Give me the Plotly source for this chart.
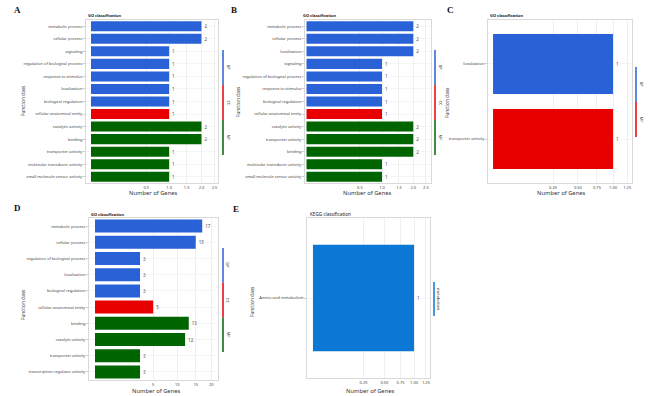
import numpy as np
import plotly.graph_objects as go

W, H = 662, 396

# ---------------- data ----------------
a_cats = ["metabolic process", "cellular process", "signaling",
          "regulation of biological process", "response to stimulus",
          "localization", "biological regulation", "cellular anatomical entity",
          "catalytic activity", "binding", "transporter activity",
          "molecular transducer activity", "small molecule sensor activity"]
a_vals = [2, 2, 1, 1, 1, 1, 1, 1, 2, 2, 1, 1, 1]
a_groups = ["BP"] * 7 + ["CC"] + ["MF"] * 5

b_cats = ["metabolic process", "cellular process", "localization", "signaling",
          "regulation of biological process", "response to stimulus",
          "biological regulation", "cellular anatomical entity",
          "catalytic activity", "transporter activity", "binding",
          "molecular transducer activity", "small molecule sensor activity"]
b_vals = [2, 2, 2, 1, 1, 1, 1, 1, 2, 2, 2, 1, 1]
b_groups = ["BP"] * 7 + ["CC"] + ["MF"] * 5

c_cats = ["localization", "transporter activity"]
c_vals = [1, 1]
c_groups = ["BP", "MF"]

d_cats = ["metabolic process", "cellular process",
          "regulation of biological process", "localization",
          "biological regulation", "cellular anatomical entity", "binding",
          "catalytic activity", "transporter activity",
          "transcription regulator activity"]
d_vals = [17, 15, 3, 3, 3, 5, 13, 12, 3, 3]
d_groups = ["BP"] * 5 + ["CC"] + ["MF"] * 4

e_cats = ["Amino acid metabolism"]
e_vals = [1]
e_groups = ["metabolism"]

ticks_ab = [0.5, 1.0, 1.5, 2.0, 2.5]
ticklabels_ab = ["0.5", "1.0", "1.5", "2.0", "2.5"]
ticks_ce = [0.25, 0.5, 0.75, 1.0, 1.25]
ticklabels_ce = ["0.25", "0.50", "0.75", "1.00", "1.25"]
ticks_d = [5, 10, 15, 20]
ticklabels_d = ["5", "10", "15", "20"]

# ---------------- styling ----------------
GO_PAL = ["#2962d6", "#e80000", "#006400"]
KEGG_PAL = ["#0a78d4"]
FONT = "Noto Sans"
GRID = "#e6e6e6"
FRAME = "#cfcfcf"

panels = [
    dict(letter="A", cats=a_cats, vals=a_vals, groups=a_groups, pal=GO_PAL,
         ticks=ticks_ab, tlabels=ticklabels_ab, frame=(86, 218, 20, 183),
         xr=[-0.064, 1.626], yr=[12.5, -0.5], title="GO classification", tbold=True,
         title_xy=(86, 15.5), letter_xy=(17, 10), ytitle_xy=(23, 101),
         xtitle_xy=(153, 193), leg_x=223, leg_y=(50, 155)),
    dict(letter="B", cats=b_cats, vals=b_vals, groups=b_groups, pal=GO_PAL,
         ticks=ticks_ab, tlabels=ticklabels_ab, frame=(305, 431, 20, 183),
         xr=[-0.02, 1.649], yr=[12.5, -0.5], title="GO classification", tbold=True,
         title_xy=(301, 15.5), letter_xy=(234, 10), ytitle_xy=(238, 102),
         xtitle_xy=(367, 193), leg_x=435, leg_y=(50, 155)),
    dict(letter="C", cats=c_cats, vals=c_vals, groups=c_groups, pal=GO_PAL,
         ticks=ticks_ce, tlabels=ticklabels_ce, frame=(488, 632, 20, 183),
         xr=[-0.042, 1.158], yr=[1.585, -0.585], title="GO classification", tbold=True,
         title_xy=(488, 15.5), letter_xy=(450, 10), ytitle_xy=(447, 103),
         xtitle_xy=(561, 193), leg_x=636, leg_y=(67, 137)),
    dict(letter="D", cats=d_cats, vals=d_vals, groups=d_groups, pal=GO_PAL,
         ticks=ticks_d, tlabels=ticklabels_d, frame=(89, 218, 218, 380),
         xr=[-0.231, 4.73], yr=[9.5, -0.5], title="GO classification", tbold=True,
         title_xy=(89, 214), letter_xy=(17, 208), ytitle_xy=(23, 305),
         xtitle_xy=(156, 391), leg_x=223, leg_y=(248, 352)),
    dict(letter="E", cats=e_cats, vals=e_vals, groups=e_groups, pal=KEGG_PAL,
         ticks=ticks_ce, tlabels=ticklabels_ce, frame=(307, 430, 218, 378),
         xr=[-0.059, 1.158], yr=[0.6, -0.6], title="KEGG classification", tbold=False,
         title_xy=(308, 214), letter_xy=(236, 209), ytitle_xy=(252, 302),
         xtitle_xy=(370, 390.5), leg_x=434, leg_y=(282, 316)),
]


def px(x):
    return x / W


def py(y):
    return 1 - y / H


fig = go.Figure()
layout = dict(width=W, height=H, margin=dict(l=0, r=0, t=0, b=0),
              paper_bgcolor="white", plot_bgcolor="white", showlegend=False,
              bargap=0.2, font=dict(family=FONT, color="#333"))
annotations = []
shapes = []

for i, p in enumerate(panels):
    n = i + 1
    xa = "xaxis" if n == 1 else f"xaxis{n}"
    ya = "yaxis" if n == 1 else f"yaxis{n}"
    xref = "x" if n == 1 else f"x{n}"
    yref = "y" if n == 1 else f"y{n}"

    uniq = list(dict.fromkeys(p["groups"]))
    colors = [p["pal"][uniq.index(g) % len(p["pal"])] for g in p["groups"]]

    fig.add_trace(go.Bar(
        x=np.sqrt(np.array(p["vals"], dtype=float)), y=p["cats"], orientation="h",
        marker=dict(color=colors, line=dict(width=0)),
        text=[str(v) for v in p["vals"]], textposition="outside",
        textfont=dict(size=4.5, color="#555", family=FONT),
        cliponaxis=False, xaxis=xref, yaxis=yref))

    x0, x1, y0, y1 = p["frame"]
    layout[xa] = dict(domain=[px(x0), px(x1)], anchor=yref, range=p["xr"],
                      tickvals=list(np.sqrt(p["ticks"])), ticktext=p["tlabels"],
                      tickfont=dict(size=4, color="#444"), ticks="",
                      showgrid=True, gridcolor=GRID, gridwidth=0.6,
                      zeroline=False, showline=True, linecolor=FRAME,
                      linewidth=0.8, mirror=True)
    layout[ya] = dict(domain=[py(y1), py(y0)], anchor=xref, type="category",
                      categoryorder="array", categoryarray=p["cats"],
                      range=p["yr"], tickfont=dict(size=4, color="#444"),
                      ticks="outside", ticklen=2, tickcolor="#999", tickwidth=0.5,
                      showgrid=True, gridcolor="#efefef", gridwidth=0.6,
                      showline=True, linecolor=FRAME, linewidth=0.8, mirror=True)

    # panel letter
    annotations.append(dict(text=f"<b>{p['letter']}</b>", x=px(p["letter_xy"][0]),
                            y=py(p["letter_xy"][1]), xref="paper", yref="paper",
                            showarrow=False, xanchor="center", yanchor="middle",
                            font=dict(family="Liberation Serif", size=9, color="#111")))
    # chart title
    ttl = f"<b>{p['title']}</b>" if p["tbold"] else p["title"]
    annotations.append(dict(text=ttl, x=px(p["title_xy"][0]), y=py(p["title_xy"][1]),
                            xref="paper", yref="paper", showarrow=False,
                            xanchor="left", yanchor="middle",
                            font=dict(size=4 if p["tbold"] else 4.6, color="#222")))
    # y title
    annotations.append(dict(text="Function class", x=px(p["ytitle_xy"][0]),
                            y=py(p["ytitle_xy"][1]), xref="paper", yref="paper",
                            showarrow=False, textangle=-90, xanchor="center",
                            yanchor="middle", font=dict(size=4.6, color="#333")))
    # x title
    annotations.append(dict(text="Number of Genes", x=px(p["xtitle_xy"][0]),
                            y=py(p["xtitle_xy"][1]), xref="paper", yref="paper",
                            showarrow=False, xanchor="center", yanchor="middle",
                            font=dict(size=5.8, color="#333")))
    # group legend bar
    ly0, ly1 = p["leg_y"]
    seg = (ly1 - ly0) / len(uniq)
    for k, g in enumerate(uniq):
        c = p["pal"][k % len(p["pal"])]
        s0 = ly0 + k * seg
        s1 = s0 + seg
        shapes.append(dict(type="line", xref="paper", yref="paper",
                           x0=px(p["leg_x"]), x1=px(p["leg_x"]),
                           y0=py(s0), y1=py(s1), line=dict(color=c, width=1.5)))
        annotations.append(dict(text=g, x=px(p["leg_x"] + 5), y=py((s0 + s1) / 2),
                                xref="paper", yref="paper", showarrow=False,
                                textangle=90, xanchor="center", yanchor="middle",
                                font=dict(size=4, color="#333")))

layout["annotations"] = annotations
layout["shapes"] = shapes
fig.update_layout(**layout)
fig.write_html("out.html",
               config={"displayModeBar": False, "staticPlot": True},
               post_script="document.body.style.margin='0';"
                           "document.body.style.padding='0';"
                           "document.body.style.overflow='hidden';")
